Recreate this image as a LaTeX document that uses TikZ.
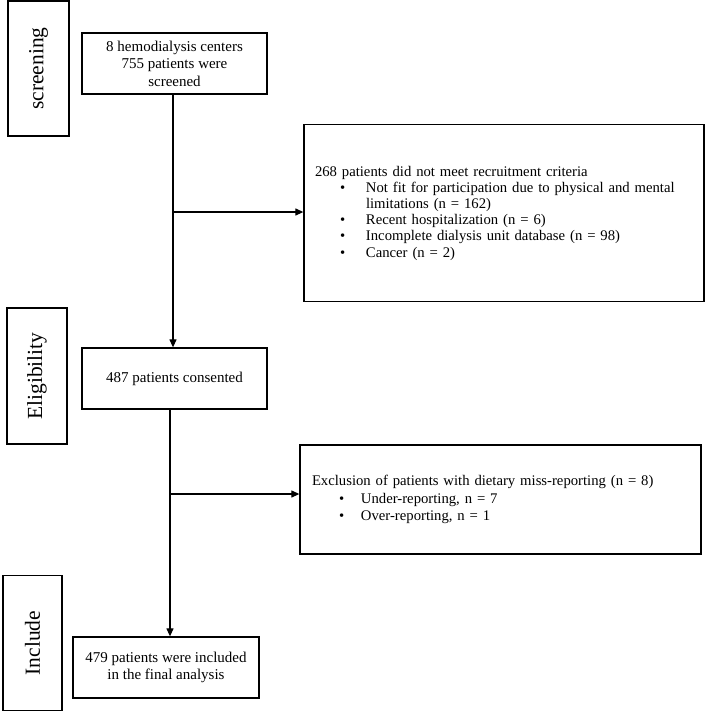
\documentclass[tikz,border=0pt]{standalone}
\usepackage{fontspec}
\setmainfont{Liberation Serif}
\usetikzlibrary{arrows.meta,calc}
\begin{document}
\begin{tikzpicture}[x=1pt,y=-1pt,
  box/.style={draw,line width=1.3pt,inner sep=0pt,align=center,font=\fontsize{15}{17.5}\selectfont},
  listbox/.style={draw,line width=1.3pt,inner ysep=0pt,align=left,font=\fontsize{14.7}{16.2}\selectfont},
  sidebox/.style={draw,line width=1.3pt,inner sep=0pt,rotate=90,font=\fontsize{21.5}{24}\selectfont},
  arr/.style={line width=1.2pt,-{Triangle[length=8pt,width=7pt]}}]
\useasboundingbox (0,0) rectangle (708,712);
\node[sidebox,minimum width=135pt,minimum height=61pt] (scr) at (38.5,68.5) {screening};
\node[sidebox,minimum width=136pt,minimum height=60pt] (elig) at (37,376) {Eligibility};
\node[sidebox,minimum width=135pt,minimum height=59pt] (incl) at (32.5,643) {Include};
\node[box,minimum width=185pt,minimum height=61pt] (b1) at (174.5,63.5) {8 hemodialysis centers\\755 patients were\\screened};
\node[listbox,minimum width=400pt,minimum height=177pt,text width=378pt,inner xsep=11pt] (b2) at (504,213) {268 patients did not meet recruitment criteria\\
\hspace*{25pt}\makebox[26pt][l]{•}Not fit for participation due to physical and mental\\
\hspace*{51pt}limitations (n = 162)\\
\hspace*{25pt}\makebox[26pt][l]{•}Recent hospitalization (n = 6)\\
\hspace*{25pt}\makebox[26pt][l]{•}Incomplete dialysis unit database (n = 98)\\
\hspace*{25pt}\makebox[26pt][l]{•}Cancer (n = 2)};
\node[box,minimum width=185pt,minimum height=61pt] (b3) at (174.5,378.5) {487 patients consented};
\node[listbox,minimum width=401pt,minimum height=109pt,text width=377pt,inner xsep=12pt,font=\fontsize{14.7}{17.5}\selectfont] (b4) at (500.5,499.5) {Exclusion of patients with dietary miss-reporting (n = 8)\\
\hspace*{27pt}\makebox[22pt][l]{•}Under-reporting, n = 7\\
\hspace*{27pt}\makebox[22pt][l]{•}Over-reporting, n = 1};
\node[box,minimum width=186pt,minimum height=61pt,font=\fontsize{15}{17}\selectfont] (b5) at (166,667.5) {479 patients were included\\in the final analysis};
\coordinate (j1) at (173,212);
\coordinate (j2) at (170,494);
\draw[arr] (b1.south -| j1) -- (b3.north -| j1);
\draw[arr] (j1) -- (j1 -| b2.west);
\draw[arr] (b3.south -| j2) -- (b5.north -| j2);
\draw[arr] (j2) -- (j2 -| b4.west);
\end{tikzpicture}
\end{document}
